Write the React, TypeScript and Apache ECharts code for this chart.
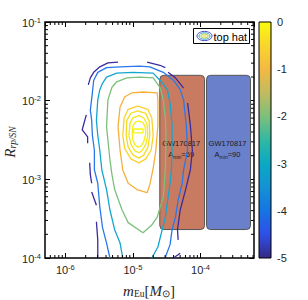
import React, { useEffect, useRef } from 'react';
import * as echarts from 'echarts';

// ---------- data (log10 coordinates) ----------
const xRange = [5e-7, 6.2e-4];
const yRange = [1e-4, 1e-1];

const xMinorTicks = [
  6e-7, 7e-7, 8e-7, 9e-7,
  2e-6, 3e-6, 4e-6, 5e-6, 6e-6, 7e-6, 8e-6, 9e-6,
  2e-5, 3e-5, 4e-5, 5e-5, 6e-5, 7e-5, 8e-5, 9e-5,
  2e-4, 3e-4, 4e-4, 5e-4, 6e-4,
];
const yMinorTicks = [
  2e-4, 3e-4, 4e-4, 5e-4, 6e-4, 7e-4, 8e-4, 9e-4,
  2e-3, 3e-3, 4e-3, 5e-3, 6e-3, 7e-3, 8e-3, 9e-3,
  2e-2, 3e-2, 4e-2, 5e-2, 6e-2, 7e-2, 8e-2, 9e-2,
];

const colorbarTicks = [-5, -4, -3, -2, -1, 0];

// contour lines as [log10 m, log10 R]
const purpleSegments = [
  [[-5.66, -1.80], [-5.63, -1.71], [-5.58, -1.64], [-5.49, -1.57], [-5.37, -1.52], [-5.22, -1.51]],
  [[-4.79, -1.51], [-4.60, -1.55], [-4.52, -1.58]],
  [[-4.48, -1.64], [-4.37, -1.71], [-4.25, -1.84]],
  [[-4.19, -2.03], [-4.15, -2.31], [-4.12, -2.63], [-4.15, -2.88], [-4.22, -3.13], [-4.30, -3.39], [-4.34, -3.64], [-4.33, -3.77]],
  [[-4.40, -4.00], [-4.30, -3.94]],
  [[-5.69, -2.18], [-5.75, -2.37], [-5.67, -2.46], [-5.67, -2.54]],
  [[-5.64, -2.79], [-5.63, -2.94], [-5.61, -3.05]],
  [[-5.61, -3.16], [-5.54, -3.33]],
  [[-5.54, -3.54], [-5.52, -3.77], [-5.52, -4.00]],
];
const blueContour = [
  [-5.34, -4.00], [-5.39, -3.81], [-5.45, -3.61], [-5.49, -3.35], [-5.52, -3.05], [-5.57, -2.88],
  [-5.57, -2.63], [-5.60, -2.44], [-5.61, -2.25], [-5.63, -2.12], [-5.60, -1.90], [-5.58, -1.74],
  [-5.52, -1.64], [-5.39, -1.58], [-5.19, -1.57], [-4.90, -1.56], [-4.75, -1.57], [-4.55, -1.64],
  [-4.40, -1.74], [-4.30, -1.86], [-4.25, -1.99], [-4.21, -2.31], [-4.19, -2.63], [-4.25, -2.88],
  [-4.27, -3.05], [-4.33, -3.26], [-4.37, -3.48], [-4.42, -3.64], [-4.45, -3.83], [-4.52, -3.99],
];
const cyanContour = [
  [-5.15, -4.00], [-5.19, -3.81], [-5.27, -3.64], [-5.34, -3.39], [-5.39, -3.13], [-5.46, -2.88],
  [-5.49, -2.63], [-5.52, -2.44], [-5.54, -2.25], [-5.52, -1.99], [-5.49, -1.86], [-5.45, -1.78],
  [-5.39, -1.70], [-5.24, -1.65], [-5.00, -1.64], [-4.70, -1.65], [-4.60, -1.74], [-4.49, -1.86],
  [-4.45, -2.03], [-4.42, -2.31], [-4.42, -2.63], [-4.43, -2.88], [-4.45, -3.05], [-4.52, -3.48],
  [-4.63, -3.86], [-4.72, -4.00],
];
const greenContour = [
  [-5.34, -2.75], [-5.37, -2.50], [-5.39, -2.33], [-5.37, -1.99], [-5.31, -1.83], [-5.24, -1.76],
  [-5.09, -1.71], [-4.90, -1.70], [-4.70, -1.71], [-4.60, -1.83], [-4.55, -1.99], [-4.52, -2.21],
  [-4.51, -2.50], [-4.52, -2.88], [-4.55, -3.22], [-4.64, -3.48], [-4.72, -3.58], [-4.85, -3.68],
  [-5.07, -3.55], [-5.16, -3.39], [-5.27, -3.13], [-5.31, -2.94], [-5.34, -2.75],
];
const orangeContour = [
  [-5.19, -2.63], [-5.22, -2.33], [-5.19, -2.08], [-5.12, -1.95], [-5.01, -1.90], [-4.85, -1.89],
  [-4.64, -1.90], [-4.63, -1.99], [-4.63, -2.31], [-4.66, -2.63], [-4.70, -2.86], [-4.75, -3.07],
  [-4.79, -3.17], [-4.94, -3.13], [-5.07, -3.05], [-5.15, -2.88], [-5.19, -2.63],
];
const yellowRings = [
  [[-5.15, -2.44], [-5.13, -2.22], [-5.07, -2.11], [-4.93, -2.07], [-4.78, -2.11], [-4.72, -2.22], [-4.70, -2.44], [-4.73, -2.63], [-4.81, -2.74], [-4.91, -2.79], [-5.03, -2.74], [-5.12, -2.61], [-5.15, -2.44]],
  [[-5.10, -2.44], [-5.09, -2.25], [-5.03, -2.16], [-4.93, -2.13], [-4.81, -2.16], [-4.76, -2.26], [-4.75, -2.44], [-4.78, -2.60], [-4.84, -2.69], [-4.91, -2.73], [-5.00, -2.69], [-5.07, -2.59], [-5.10, -2.44]],
  [[-5.06, -2.44], [-5.04, -2.28], [-5.00, -2.22], [-4.91, -2.19], [-4.84, -2.22], [-4.79, -2.30], [-4.78, -2.44], [-4.81, -2.56], [-4.87, -2.64], [-4.91, -2.66], [-4.97, -2.64], [-5.03, -2.55], [-5.06, -2.44]],
  [[-5.01, -2.42], [-5.00, -2.32], [-4.96, -2.27], [-4.91, -2.26], [-4.85, -2.28], [-4.82, -2.33], [-4.81, -2.42], [-4.84, -2.52], [-4.88, -2.58], [-4.93, -2.59], [-4.97, -2.56], [-5.00, -2.50], [-5.01, -2.42]],
  [[-4.99, -2.36], [-4.85, -2.36], [-4.85, -2.41], [-4.99, -2.41], [-4.99, -2.36]],
];

// shaded boxes: [x0, y0, x1, y1]
const boxes = [
  [2.5e-5, 2.3e-4, 1.15e-4, 2.1e-2],
  [1.23e-4, 2.3e-4, 5.5e-4, 2.1e-2],
];
const boxTitles = ['GW170817', 'GW170817'];
const boxAmin = [69, 90];

// ---------- styles ----------
const SANS = 'Liberation Sans, Arial, Helvetica, sans-serif';
const SERIF = 'Liberation Serif, Times New Roman, serif';
const TXT = '#262626';
const boxFills = ['#c97b61', '#6a80ca'];
const purpleColor = '#3b2ba0';
const blueColor = '#2878eb';
const cyanColor = '#13a6cf';
const greenColor = '#7cc07a';
const orangeColor = '#f5b03c';
const yellowColors = ['#fbd02c', '#f4dc22', '#f3e61c', '#f6ee18', '#f8f511'];
const parulaStops = [
  [0.0, '#352a87'], [0.1, '#2f4fe6'], [0.2, '#1674e3'], [0.3, '#1492d4'],
  [0.4, '#0aa9c4'], [0.5, '#31b8a3'], [0.6, '#7dbf7b'], [0.7, '#c1bb60'],
  [0.8, '#f3b943'], [0.9, '#f9d52c'], [1.0, '#f9fb0e'],
];

const toVal = (p: number[]) => [Math.pow(10, p[0]), Math.pow(10, p[1])];

function lineSeries(pts: number[][], color: string) {
  return {
    type: 'line',
    xAxisIndex: 0,
    yAxisIndex: 0,
    data: pts.map(toVal),
    showSymbol: false,
    symbol: 'none',
    smooth: false,
    silent: true,
    clip: true,
    z: 4,
    lineStyle: { color, width: 1.3 },
    itemStyle: { color },
  };
}

const tickRich = {
  b: { fontSize: 11, lineHeight: 12, padding: [4, 0, 0, 0], verticalAlign: 'bottom', fontFamily: SANS, color: TXT },
  s: { fontSize: 7.5, lineHeight: 8, verticalAlign: 'top', fontFamily: SANS, color: TXT },
};
const powLabel = (v: number) => `{b|10}{s|${Math.round(Math.log10(v))}}`;

const nameRich = {
  i: { fontFamily: SERIF, fontStyle: 'italic', fontSize: 15, lineHeight: 15, verticalAlign: 'top', fill: TXT },
  n: { fontFamily: SERIF, fontSize: 15, lineHeight: 15, verticalAlign: 'top', fill: TXT },
  sub: { fontFamily: SERIF, fontSize: 9.5, lineHeight: 10, padding: [6, 0, 0, 0], verticalAlign: 'bottom', fill: TXT },
  subi: { fontFamily: SERIF, fontStyle: 'italic', fontSize: 9.5, lineHeight: 10, padding: [6, 0, 0, 0], verticalAlign: 'bottom', fill: TXT },
};

export default function App() {
  const ref = useRef<HTMLDivElement>(null);
  useEffect(() => {
    document.body.style.margin = '0';
    if (!ref.current) return;
    const chart = echarts.init(ref.current, null, { renderer: 'svg' });

    const tickCommon = { inside: true, length: 5, lineStyle: { color: '#000', width: 1 } };

    const option: any = {
      animation: false,
      backgroundColor: '#fff',
      grid: [
        { left: 45, top: 22, width: 209, height: 236, show: true, borderColor: '#000', borderWidth: 1.5, backgroundColor: 'transparent' },
        { left: 259, top: 22, width: 12, height: 236 },
      ],
      xAxis: [
        {
          type: 'log', gridIndex: 0, min: xRange[0], max: xRange[1], position: 'bottom',
          axisLine: { show: false }, splitLine: { show: false }, minorTick: { show: false },
          axisTick: tickCommon,
          axisLabel: { formatter: powLabel, rich: tickRich, margin: 5, align: 'center', showMinLabel: false, showMaxLabel: false, hideOverlap: false },
        },
        {
          type: 'log', gridIndex: 0, min: xRange[0], max: xRange[1], position: 'top',
          axisLine: { show: false }, splitLine: { show: false },
          axisTick: tickCommon, axisLabel: { show: false },
        },
        { type: 'value', gridIndex: 1, min: 0, max: 1, show: false },
      ],
      yAxis: [
        {
          type: 'log', gridIndex: 0, min: yRange[0], max: yRange[1], position: 'left',
          axisLine: { show: false }, splitLine: { show: false },
          axisTick: tickCommon,
          axisLabel: { formatter: powLabel, rich: tickRich, margin: 4, align: 'right', hideOverlap: false },
        },
        {
          type: 'log', gridIndex: 0, min: yRange[0], max: yRange[1], position: 'right',
          axisLine: { show: false }, splitLine: { show: false },
          axisTick: tickCommon, axisLabel: { show: false },
        },
        {
          type: 'value', gridIndex: 1, min: colorbarTicks[0], max: colorbarTicks[colorbarTicks.length - 1], interval: 1,
          position: 'right', axisLine: { show: false }, splitLine: { show: false },
          axisTick: { show: false },
          axisLabel: { fontSize: 11, fontFamily: SANS, color: TXT, margin: 6 },
        },
      ],
      series: [
        // shaded boxes
        {
          type: 'custom', xAxisIndex: 0, yAxisIndex: 0, z: 2, silent: true, clip: false,
          encode: { x: [0, 2], y: [1, 3] },
          data: boxes,
          renderItem: (params: any, api: any) => {
            const p0 = api.coord([api.value(0), api.value(3)]);
            const p1 = api.coord([api.value(2), api.value(1)]);
            const i = params.dataIndex;
            const cx = (p0[0] + p1[0]) / 2;
            const cy = (p0[1] + p1[1]) / 2;
            return {
              type: 'group',
              children: [
                {
                  type: 'rect',
                  shape: { x: p0[0], y: p0[1], width: p1[0] - p0[0], height: p1[1] - p0[1], r: 4 },
                  style: { fill: boxFills[i], stroke: '#555', lineWidth: 1 },
                },
                {
                  type: 'text', x: cx - 1, y: cy - 8.5, z2: 10,
                  style: { text: boxTitles[i], fontSize: 7.5, fontFamily: SANS, fill: '#1a1a1a', align: 'center', verticalAlign: 'middle' },
                },
                {
                  type: 'text', x: cx - 1, y: cy + 2.5, z2: 10,
                  style: {
                    text: `{a|A}{m|min}{a|=${boxAmin[i]}}`,
                    align: 'center', verticalAlign: 'middle',
                    rich: {
                      a: { fontSize: 7.5, lineHeight: 9, verticalAlign: 'top', fontFamily: SANS, fill: '#1a1a1a' },
                      m: { fontSize: 5, lineHeight: 6, padding: [5, 0, 0, 0], verticalAlign: 'bottom', fontFamily: SANS, fill: '#1a1a1a' },
                    },
                  },
                },
              ],
            };
          },
        },
        // contours
        ...purpleSegments.map((s) => lineSeries(s, purpleColor)),
        lineSeries(blueContour, blueColor),
        lineSeries(cyanContour, cyanColor),
        lineSeries(greenContour, greenColor),
        lineSeries(orangeContour, orangeColor),
        ...yellowRings.map((r, i) => lineSeries(r, yellowColors[i])),
        // minor ticks x
        {
          type: 'custom', xAxisIndex: 0, yAxisIndex: 0, z: 6, silent: true, clip: false,
          data: xMinorTicks.map((v) => [v, 1e-3]),
          encode: { x: 0, y: 1 },
          renderItem: (params: any, api: any) => {
            const cs = params.coordSys;
            const px = api.coord([api.value(0), api.value(1)])[0];
            return {
              type: 'group',
              children: [
                { type: 'line', shape: { x1: px, y1: cs.y + cs.height, x2: px, y2: cs.y + cs.height - 3 }, style: { stroke: '#000', lineWidth: 1 } },
                { type: 'line', shape: { x1: px, y1: cs.y, x2: px, y2: cs.y + 3 }, style: { stroke: '#000', lineWidth: 1 } },
              ],
            };
          },
        },
        // minor ticks y
        {
          type: 'custom', xAxisIndex: 0, yAxisIndex: 0, z: 6, silent: true, clip: false,
          data: yMinorTicks.map((v) => [1e-5, v]),
          encode: { x: 0, y: 1 },
          renderItem: (params: any, api: any) => {
            const cs = params.coordSys;
            const py = api.coord([api.value(0), api.value(1)])[1];
            return {
              type: 'group',
              children: [
                { type: 'line', shape: { x1: cs.x, y1: py, x2: cs.x + 3, y2: py }, style: { stroke: '#000', lineWidth: 1 } },
                { type: 'line', shape: { x1: cs.x + cs.width, y1: py, x2: cs.x + cs.width - 3, y2: py }, style: { stroke: '#000', lineWidth: 1 } },
              ],
            };
          },
        },
        // colorbar
        {
          type: 'custom', xAxisIndex: 2, yAxisIndex: 2, silent: true, clip: false,
          data: [[0, colorbarTicks[0], 1, colorbarTicks[colorbarTicks.length - 1]]],
          encode: { x: [0, 2], y: [1, 3] },
          renderItem: (params: any, api: any) => {
            const p0 = api.coord([api.value(0), api.value(3)]);
            const p1 = api.coord([api.value(2), api.value(1)]);
            return {
              type: 'rect',
              shape: { x: p0[0], y: p0[1], width: p1[0] - p0[0], height: p1[1] - p0[1] },
              style: {
                fill: new echarts.graphic.LinearGradient(0, 1, 0, 0,
                  parulaStops.map(([o, c]) => ({ offset: o as number, color: c as string }))),
                stroke: '#000',
                lineWidth: 1,
              },
            };
          },
        },
      ],
      graphic: [
        { type: 'rect', z: 20, shape: { x: 193.5, y: 28.5, width: 56, height: 15 }, style: { fill: '#fff', stroke: '#000', lineWidth: 1 } },
        { type: 'ellipse', z: 21, shape: { cx: 204.5, cy: 36, rx: 7.5, ry: 4.6 }, style: { fill: 'none', stroke: '#4a4bc0', lineWidth: 1 } },
        { type: 'ellipse', z: 21, shape: { cx: 204.5, cy: 36, rx: 5.6, ry: 3.3 }, style: { fill: 'none', stroke: '#3aa6d8', lineWidth: 1 } },
        { type: 'ellipse', z: 21, shape: { cx: 204.5, cy: 36, rx: 3.7, ry: 2.1 }, style: { fill: 'none', stroke: '#a9c95a', lineWidth: 1 } },
        { type: 'ellipse', z: 21, shape: { cx: 204.5, cy: 36, rx: 1.8, ry: 0.9 }, style: { fill: 'none', stroke: '#f3dc1e', lineWidth: 1 } },
        { type: 'text', z: 21, x: 213.5, y: 36.5, style: { text: 'top hat', fontSize: 11, fontFamily: SANS, fill: '#000', verticalAlign: 'middle' } },
        // axis titles
        {
          type: 'text', z: 21, x: 149, y: 291,
          style: { text: '{i|m}{sub|Eu}{n|[}{i|M}{sub|⊙}{n|]}', rich: nameRich, align: 'center', verticalAlign: 'middle' },
        },
        {
          type: 'text', z: 21, x: 10, y: 142, rotation: Math.PI / 2,
          style: { text: '{i|R}{subi|rp/SN}', rich: nameRich, align: 'center', verticalAlign: 'middle' },
        },
      ],
    };
    chart.setOption(option);
    return () => chart.dispose();
  }, []);
  return <div ref={ref} style={{ position: 'fixed', left: 0, top: 0, width: 308, height: 300 }} />;
}
